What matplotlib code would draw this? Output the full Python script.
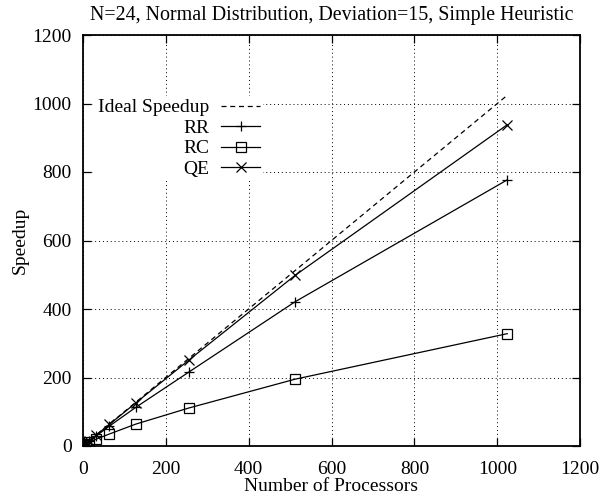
import matplotlib
matplotlib.use("Agg")
import matplotlib.pyplot as plt

procs = [1, 2, 4, 8, 16, 32, 64, 128, 256, 512, 1024]
ideal = [1, 1024]
rr = [1, 2, 3.9, 7.7, 15, 29, 58, 113, 216, 421, 777]
rc = [1, 1.9, 3.6, 6.5, 11, 20, 35, 64, 111, 195, 328]
qe = [1, 2, 4, 8, 16, 31.5, 63, 126, 251, 498, 938]

x_ticks = [0, 200, 400, 600, 800, 1000, 1200]
y_ticks = [0, 200, 400, 600, 800, 1000, 1200]

plt.rcParams["font.family"] = ["Liberation Serif", "DejaVu Serif"]
plt.rcParams["font.size"] = 14

fig = plt.figure(figsize=(6, 5), dpi=100)
ax = fig.add_axes([0.138, 0.108, 0.829, 0.822])

ax.plot(ideal, ideal, color="black", linestyle=(0, (4, 3)), linewidth=0.9, label="Ideal Speedup")
ax.plot(procs, rr, color="black", linewidth=0.9, marker="+", markersize=7,
        markeredgewidth=0.9, label="RR")
ax.plot(procs, rc, color="black", linewidth=0.9, marker="s", markersize=7,
        markerfacecolor="none", markeredgewidth=0.9, label="RC")
ax.plot(procs, qe, color="black", linewidth=0.9, marker="x", markersize=7,
        markeredgewidth=0.9, label="QE")

ax.set_xlim(0, 1200)
ax.set_ylim(0, 1200)
ax.set_xticks(x_ticks)
ax.set_yticks(y_ticks)
ax.tick_params(direction="in", top=True, right=True, length=6, width=0.9, labelsize=14)
ax.tick_params(axis="x", pad=10.5)
ax.tick_params(axis="y", pad=8)
ax.grid(True, color="black", linestyle=(0, (1, 3)), linewidth=0.7)
for sp in ax.spines.values():
    sp.set_linewidth(1.3)

ax.set_title("N=24, Normal Distribution, Deviation=15, Simple Heuristic", fontsize=14.4, pad=10.5)
ax.set_xlabel("Number of Processors", fontsize=14, labelpad=0)
ax.set_ylabel("Speedup", fontsize=14, labelpad=3)

leg = ax.legend(loc="upper left", bbox_to_anchor=(0.025, 0.852), markerfirst=False,
                frameon=True, fancybox=False, handlelength=2.0, handletextpad=0.6,
                labelspacing=0.15, borderpad=0.15, borderaxespad=0, fontsize=14)
leg.get_frame().set_facecolor("white")
leg.get_frame().set_edgecolor("none")
leg.get_frame().set_alpha(1.0)
for t in leg.get_texts():
    t.set_ha("right")
leg._legend_box.align = "right"

fig.savefig("out.png", dpi=100)
